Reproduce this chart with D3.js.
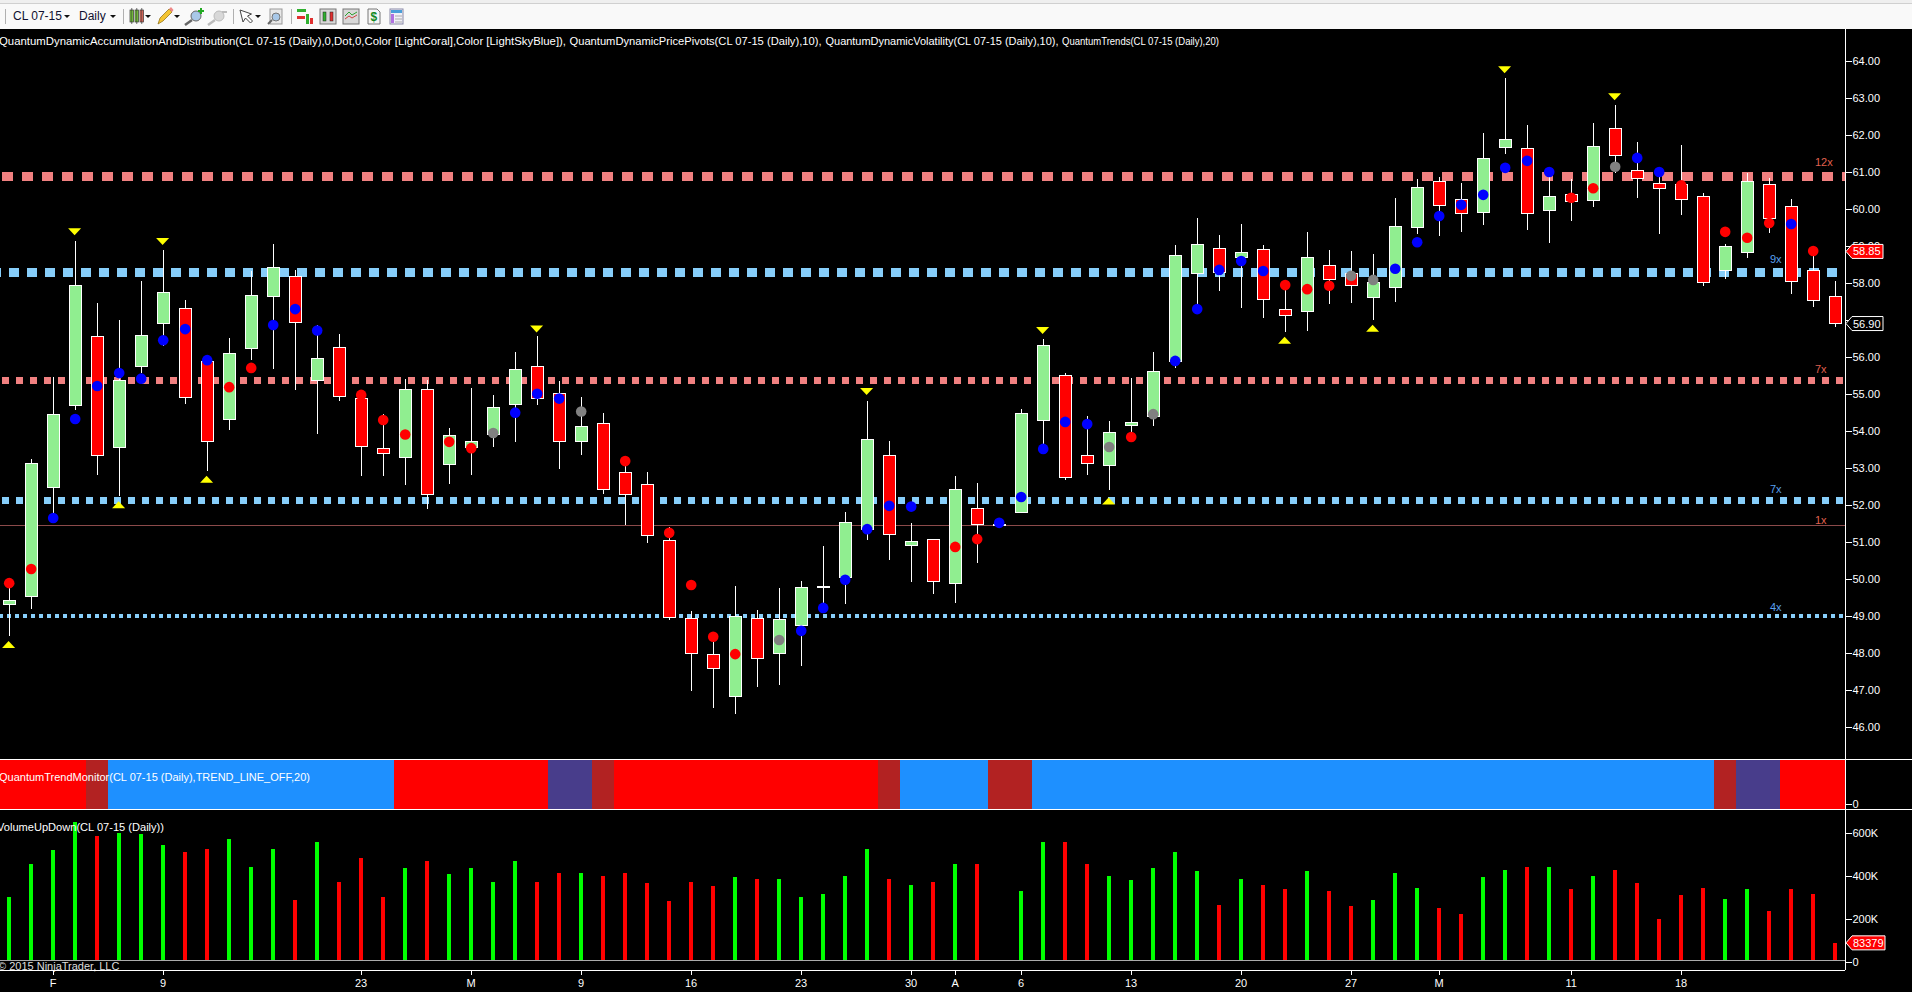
<!DOCTYPE html>
<html><head><meta charset="utf-8">
<style>
html,body{margin:0;padding:0;background:#000;overflow:hidden}
svg{display:block}
text{font-family:"Liberation Sans",Arial,sans-serif;font-size:11px}
</style>
<script src="https://cdn.jsdelivr.net/npm/d3@7/dist/d3.min.js"></script>
</head><body>
<svg id="c" width="1912" height="992"></svg>
<script>
const opens =[49.30,49.51,52.46,54.68,56.55,53.54,55.73,56.90,57.31,55.87,54.30,56.22,57.63,58.18,55.36,56.26,54.88,53.52,53.27,55.12,53.08,53.55,53.89,54.71,55.74,55.01,53.70,54.20,52.88,52.55,51.04,48.93,47.95,46.82,48.93,47.97,48.73,49.80,50.03,51.32,53.34,50.89,51.07,49.87,51.90,51.46,51.79,54.27,55.50,53.34,53.06,54.14,54.38,55.87,58.25,58.94,58.68,58.89,57.28,57.22,58.47,58.26,57.60,57.87,59.49,60.75,60.26,59.90,61.66,61.64,59.95,60.39,60.22,62.18,61.04,60.69,60.65,60.34,58.34,58.83,60.67,60.07,58.33,57.64];
const closes=[49.42,53.12,54.45,57.93,53.33,55.36,56.58,57.75,54.90,53.70,56.09,57.66,58.42,56.93,55.96,54.92,53.57,53.38,55.12,52.27,53.88,53.71,54.63,55.66,54.87,53.70,54.12,52.40,52.27,51.16,48.96,47.97,47.58,48.98,47.84,48.90,49.77,49.80,51.52,53.77,51.19,51.01,49.92,52.42,51.46,51.46,54.47,56.31,52.73,53.11,53.96,54.23,55.61,58.73,59.05,58.28,58.83,57.55,57.12,58.69,58.10,57.93,58.01,59.53,60.58,60.09,59.87,61.37,61.88,59.87,60.34,60.20,61.69,61.44,60.83,60.56,60.26,58.01,58.98,60.75,59.75,58.04,57.53,56.90];
const highs =[49.88,53.23,55.46,59.13,57.45,57.00,58.05,58.89,57.54,56.05,56.50,58.32,59.04,58.35,56.86,56.62,55.10,54.45,55.40,55.36,54.07,55.16,54.97,56.13,56.55,55.35,54.90,54.48,53.06,52.89,51.39,49.12,48.30,49.80,49.15,49.74,49.94,50.89,51.80,54.81,53.72,51.50,51.07,52.78,52.60,51.46,54.59,56.47,55.55,54.40,54.27,55.42,56.13,59.02,59.75,59.30,59.59,59.02,58.00,59.38,58.90,58.86,58.78,60.29,60.80,60.85,60.69,62.04,63.54,62.27,61.00,60.80,62.31,62.81,61.80,61.00,61.73,60.42,59.05,60.96,60.83,60.27,58.86,58.05];
const lows  =[48.45,49.19,51.59,54.56,52.81,52.24,55.55,56.30,54.73,52.92,54.03,55.91,55.68,55.10,53.92,54.80,52.79,52.79,52.53,51.89,52.56,52.80,53.56,53.70,54.70,52.97,53.35,52.30,51.44,50.97,48.87,46.95,46.51,46.35,47.08,47.13,47.64,49.10,49.32,51.05,50.51,49.92,49.59,49.35,50.43,51.46,51.77,53.50,52.67,52.80,52.40,53.98,54.13,55.71,57.29,57.78,57.32,57.05,56.67,56.70,57.43,57.46,57.00,57.49,59.33,59.28,59.38,59.57,61.49,59.43,59.09,59.67,60.06,60.96,60.30,59.33,59.84,57.92,58.11,58.68,59.36,57.71,57.36,56.82];
const dotPrices=[49.88,50.26,51.64,54.32,55.21,55.56,55.41,56.45,56.75,55.91,55.18,55.70,56.86,57.29,56.71,null,54.97,54.29,53.90,null,53.70,53.53,53.94,54.49,55.00,54.87,54.52,null,53.18,null,51.24,49.83,48.43,47.96,null,48.34,48.59,49.21,49.97,51.34,51.97,51.95,null,50.86,51.07,51.51,52.21,53.51,54.24,54.18,53.56,53.83,54.45,55.89,57.29,58.35,58.59,58.32,57.94,57.83,57.92,58.19,58.08,58.38,59.10,59.81,60.11,60.38,61.11,61.30,61.00,60.30,60.56,61.14,61.38,61.00,60.64,null,59.38,59.22,59.62,59.59,58.86,null];
const dotKinds ="rrbbbbbbbbrrbbb-rrr-rrgbbbg-r-rrrr-gbbbbbb-rrbbbbbgrgbbbbbrrrggbbbbbbbbrrgbbr-rrrbr-";
const volumes=[300,454,515,646,581,599,590,539,506,520,567,440,520,282,557,366,478,296,431,464,403,431,370,464,370,408,412,398,408,361,277,370,347,389,380,380,296,310,398,520,384,356,366,454,454,0,328,553,557,450,398,375,431,510,417,258,384,356,333,417,328,254,282,412,342,244,216,389,426,440,436,333,398,426,361,193,305,338,286,333,230,333,314,83.379];
const trendStates="rrrrfbbbbbbbbbbbbbrrrrrrrssfrrrrrrrrrrrrfbbbbffbbbbbbbbbbbbbbbbbbbbbbbbbbbbbbbfssrrr".split("");
const pivotHighBars=[3,7,24,39,47,68,73];
const pivotHighPrices=[59.38,59.12,56.75,55.06,56.71,63.76,63.03];
const pivotLowBars=[0,5,9,50,58,62];
const pivotLowPrices=[48.22,52.00,52.69,52.10,56.45,56.77];
const priceTicks=d3.range(46,65);
const volumeTicks=[0,200,400,600];
const timeTickBars=[2,7,16,21,26,31,36,41,43,46,51,56,61,65,71,76];
const timeTickLabels=["F","9","23","M","9","16","23","30","A","6","13","20","27","M","11","18"];
const lastPrice=56.90, markPrice=58.85, lastVolume=83379;
const levelPrices=[60.87,58.28,55.36,52.12,49.0];
const levelLabels=["12x","9x","7x","7x","4x"];
const levelKinds=["coral","sky","coral","sky","sky"];
const thinLevel=51.44;
const headerParts=["QuantumDynamicAccumulationAndDistribution(CL 07-15 (Daily),0,Dot,0,Color [LightCoral],Color [LightSkyBlue]),","QuantumDynamicPricePivots(CL 07-15 (Daily),10),","QuantumDynamicVolatility(CL 07-15 (Daily),10),","QuantumTrends(CL 07-15 (Daily),20)"];
const headerX=[-1,569.5,825.5,1062];
const headerLen=[567,252,233,157];

const svg=d3.select("#c");
const R=1845;
const x=d3.scaleLinear().domain([0,83]).range([8.6,1834.6]);
const y=d3.scaleLinear().domain([64,46]).range([61,726.6]);
const yv=d3.scaleLinear().domain([0,600]).range([960.7,832.3]);
const idx=d3.range(opens.length);
const COL={r:"#ff0000",b:"#0000ff",g:"#808080"};
const TR={r:"#ff0000",f:"#b22222",b:"#1e90ff",s:"#483d8b"};

svg.append("rect").attr("width",1912).attr("height",992).attr("fill","#000");

// toolbar
const tb=svg.append("g");
tb.append("rect").attr("width",1912).attr("height",3).attr("fill","#efefef");
tb.append("rect").attr("y",3).attr("width",1912).attr("height",1).attr("fill","#d0d0d0");
tb.append("rect").attr("y",4).attr("width",1912).attr("height",25).attr("fill","#f9f9f9");
[5,123,233,291].forEach(v=>tb.append("rect").attr("x",v).attr("y",9).attr("width",1).attr("height",15).attr("fill","#b0b0b0"));
tb.append("text").attr("x",13).attr("y",20).style("font-size","12px").attr("fill","#101030").text("CL 07-15");
tb.append("text").attr("x",79).attr("y",20).style("font-size","12px").attr("fill","#101030").text("Daily");
[67,113,148,177,258].forEach(v=>tb.append("path").attr("d",`M${v-3},15h6l-3,3z`).attr("fill","#111"));
[[130,"#7fd43c"],[135,"#7fd43c"],[140,"#f07060"]].forEach(a=>{
 tb.append("rect").attr("x",a[0]).attr("y",10).attr("width",3.5).attr("height",12).attr("fill",a[1]).attr("stroke","#333").attr("stroke-width",.7);
 tb.append("path").attr("d",`M${a[0]+1.75},8v16`).attr("stroke","#333").attr("stroke-width",.7);});
tb.append("path").attr("d","M158,24l2,-6l9,-9l3,3l-9,9z").attr("fill","#f4c430").attr("stroke","#8a6a10").attr("stroke-width",.7);
tb.append("path").attr("d","M169,9l3,3l1.5,-2l-2.5,-3z").attr("fill","#e88");
[[196,"#a8c8e8","#666"],[219,"#d8d8d8","#bbb"]].forEach(a=>{
 tb.append("path").attr("d",`M${a[0]-4},20l-7,5`).attr("stroke",a[2]).attr("stroke-width",2.5);
 tb.append("circle").attr("cx",a[0]).attr("cy",16).attr("r",5).attr("fill",a[1]).attr("stroke",a[2]);});
tb.append("path").attr("d","M198,11h6M201,8v6").attr("stroke","#22aa22").attr("stroke-width",2);
tb.append("path").attr("d","M222,12h5").attr("stroke","#bbb").attr("stroke-width",2);
tb.append("path").attr("d","M240,10l3,12l2.5,-4l5,5l2,-2l-5,-5l4,-2z").attr("fill","#fff").attr("stroke","#444");
tb.append("rect").attr("x",270).attr("y",9).attr("width",12).attr("height",15).attr("fill","#e8e8e8").attr("stroke","#999");
tb.append("path").attr("d","M272,20l-4,4").attr("stroke","#666").attr("stroke-width",2);
tb.append("circle").attr("cx",276).attr("cy",17).attr("r",4).attr("fill","#a8c8e8").attr("stroke","#777");
tb.append("rect").attr("x",297).attr("y",9).attr("width",9).attr("height",3).attr("fill","#30b030");
tb.append("rect").attr("x",297).attr("y",16).attr("width",8).attr("height",3).attr("fill","#e03030");
tb.append("rect").attr("x",306).attr("y",14).attr("width",3).attr("height",10).attr("fill","#30b030");
tb.append("rect").attr("x",310).attr("y",18).attr("width",3).attr("height",6).attr("fill","#e03030");
tb.append("rect").attr("x",320).attr("y",9).attr("width",16).attr("height",15).attr("fill","#d8d8d8").attr("stroke","#777");
[[323,"#30b030"],[330,"#e03030"]].forEach(a=>tb.append("rect").attr("x",a[0]).attr("y",12).attr("width",3).attr("height",9).attr("fill",a[1]).attr("stroke","#222").attr("stroke-width",.5));
tb.append("rect").attr("x",343).attr("y",9).attr("width",16).attr("height",15).attr("fill","#d8d8d8").attr("stroke","#777");
tb.append("path").attr("d","M345,16l4,-4l3,3l5,-3").attr("fill","none").attr("stroke","#30a030");
tb.append("path").attr("d","M345,19l4,-3l3,2l5,-3").attr("fill","none").attr("stroke","#d04040");
tb.append("path").attr("d","M368,9h9l3,3v12h-12z").attr("fill","#f5f5f5").attr("stroke","#777");
tb.append("text").attr("x",370.5).attr("y",21).style("font-size","12px").style("font-weight","bold").attr("fill","#118822").text("$");
tb.append("rect").attr("x",390).attr("y",9).attr("width",13).attr("height",15).attr("fill","#f0f0f8").attr("stroke","#8a8aa8");
tb.append("rect").attr("x",391).attr("y",10).attr("width",11).attr("height",3).attr("fill","#4a9fd9");
tb.append("rect").attr("x",391).attr("y",14).attr("width",3).attr("height",9).attr("fill","#b070e0");
tb.append("path").attr("d","M395,16h7M395,19h7M395,22h7").attr("stroke","#aaa");

// header
svg.append("g").selectAll("text").data(headerParts).join("text")
 .attr("x",(d,i)=>headerX[i]).attr("y",45).attr("fill","#fff")
 .attr("textLength",(d,i)=>headerLen[i]).attr("lengthAdjust","spacingAndGlyphs").text(d=>d);

// levels (dotted lines)
const levelStyle=[{h:9.5,d:"10.6 9.4",o:18},{h:8.7,d:"9.6 8.4",o:9},{h:7,d:"7.3 6.7",o:12},{h:7,d:"7.3 6.7",o:12},{h:4,d:"4 4",o:1}];
svg.append("g").selectAll("line").data(levelPrices).join("line")
 .attr("x1",0).attr("x2",R).attr("y1",d=>y(d)).attr("y2",d=>y(d))
 .attr("stroke",(d,i)=>levelKinds[i]=="coral"?"#f08080":"#87cefa")
 .attr("stroke-width",(d,i)=>levelStyle[i].h)
 .attr("stroke-dasharray",(d,i)=>levelStyle[i].d)
 .attr("stroke-dashoffset",(d,i)=>levelStyle[i].o)
 .attr("shape-rendering","crispEdges");
svg.append("line").attr("x1",0).attr("x2",R).attr("y1",y(thinLevel)+.5).attr("y2",y(thinLevel)+.5).attr("stroke","#8b4a4a").attr("shape-rendering","crispEdges");

// level labels
const lblX=[1815,1770,1815,1770,1770], lblY=[166,263,373,493,611];
svg.append("g").selectAll("text").data(levelLabels).join("text")
 .attr("x",(d,i)=>lblX[i]).attr("y",(d,i)=>lblY[i]).text(d=>d)
 .attr("fill",(d,i)=>levelKinds[i]=="coral"?"#e0604f":"#5aa0f0");
svg.append("text").attr("x",1815).attr("y",524).attr("fill","#e0604f").text("1x");

// candles
const g=svg.append("g").attr("shape-rendering","crispEdges");
g.selectAll("line").data(idx).join("line")
 .attr("x1",i=>Math.round(x(i))+.5).attr("x2",i=>Math.round(x(i))+.5)
 .attr("y1",i=>y(highs[i])).attr("y2",i=>y(lows[i])).attr("stroke","#fff");
g.selectAll("rect").data(idx).join("rect")
 .attr("x",i=>Math.round(x(i))-5.5).attr("width",12)
 .attr("y",i=>y(Math.max(opens[i],closes[i]))).attr("height",i=>Math.max(1,Math.abs(y(opens[i])-y(closes[i]))))
 .attr("fill",i=>closes[i]>=opens[i]?"#90ee90":"#ff0000").attr("stroke","#fff");

// dots
svg.append("g").selectAll("circle").data(idx.filter(i=>dotPrices[i]!=null)).join("circle")
 .attr("cx",i=>x(i)+.6).attr("cy",i=>y(dotPrices[i])).attr("r",5.3)
 .attr("fill",i=>COL[dotKinds[i]]);

// pivots
const tri=svg.append("g").attr("fill","#ffff00");
tri.selectAll("path.h").data(pivotHighBars).join("path").attr("class","h")
 .attr("d",(b,i)=>`M${x(b)-6.5},${y(pivotHighPrices[i])-3.5}h13l-6.5,7z`);
tri.selectAll("path.l").data(pivotLowBars).join("path").attr("class","l")
 .attr("d",(b,i)=>`M${x(b)-6.5},${y(pivotLowPrices[i])+3.5}h13l-6.5,-7z`);

// trend panel
svg.append("g").attr("shape-rendering","crispEdges").selectAll("rect").data(trendStates).join("rect")
 .attr("x",(d,i)=>x(i)-11).attr("width",(d,i)=>i==83?R+1-(x(i)-11):22)
 .attr("y",760).attr("height",49).attr("fill",d=>TR[d]);
svg.append("rect").attr("y",760).attr("width",9).attr("height",49).attr("fill","#ff0000");
[759,809].forEach(v=>svg.append("rect").attr("x",0).attr("y",v).attr("width",1912).attr("height",1).attr("fill","#fff"));
svg.append("text").attr("x",-1).attr("y",781).attr("fill","#fff").text("QuantumTrendMonitor(CL 07-15 (Daily),TREND_LINE_OFF,20)");

// volume
svg.append("g").attr("shape-rendering","crispEdges").selectAll("rect").data(idx.filter(i=>volumes[i]>0)).join("rect")
 .attr("x",i=>Math.round(x(i))-2).attr("width",4)
 .attr("y",i=>yv(volumes[i])).attr("height",i=>yv(0)-yv(volumes[i]))
 .attr("fill",i=>closes[i]>=opens[i]?"#00ff00":"#ff0000");
svg.append("rect").attr("x",0).attr("y",960).attr("width",R).attr("height",1).attr("fill","#aaa");
svg.append("text").attr("x",-3).attr("y",831).attr("fill","#fff").attr("textLength",167).attr("lengthAdjust","spacingAndGlyphs").text("VolumeUpDown(CL 07-15 (Daily))");
svg.append("text").attr("x",-2).attr("y",970).attr("fill","#ddd").text("© 2015 NinjaTrader, LLC");

// axes
function styleAxis(s){s.select(".domain").remove();s.selectAll("line").attr("stroke","#fff").attr("shape-rendering","crispEdges");
 s.selectAll("text").attr("fill","#fff").attr("font-family","Liberation Sans").style("font-size","11px");}
svg.append("g").attr("transform",`translate(${R+.5},0)`).call(d3.axisRight(y).tickValues(priceTicks).tickFormat(d3.format(".2f")).tickSize(6).tickPadding(1)).call(styleAxis);
svg.append("g").attr("transform",`translate(${R+.5},1)`).call(d3.axisRight(yv).tickValues(volumeTicks).tickFormat(d=>d?d+"K":"0").tickSize(6).tickPadding(1)).call(styleAxis);
svg.append("g").attr("transform",`translate(${R+.5},1)`).call(d3.axisRight(d3.scaleLinear().domain([0,1]).range([803,760])).tickValues([0]).tickFormat(d=>"0").tickSize(6).tickPadding(1)).call(styleAxis);
svg.append("rect").attr("x",R).attr("y",29).attr("width",1).attr("height",941).attr("fill","#fff");
svg.append("rect").attr("x",0).attr("y",970).attr("width",R).attr("height",1).attr("fill","#fff");
const xa=d3.axisBottom(x).tickValues(timeTickBars).tickFormat(b=>timeTickLabels[timeTickBars.indexOf(b)]).tickSize(5).tickPadding(4);
svg.append("g").attr("transform","translate(0,970)").call(xa).call(styleAxis);

// flags
function flag(cy,w,txt,fill){
 const f=svg.append("g");
 f.append("path").attr("d",`M${R+1},${cy}l6,-7h${w}v14h-${w}z`).attr("fill",fill).attr("stroke","#fff");
 f.append("text").attr("x",R+8).attr("y",cy+4).attr("fill","#fff").text(txt);
}
flag(y(markPrice),31,d3.format(".2f")(markPrice),"#ff0000");
flag(y(lastPrice),31,d3.format(".2f")(lastPrice),"#000");
flag(yv(lastVolume/1000),33,String(lastVolume),"#ff0000");
</script>
</body></html>
